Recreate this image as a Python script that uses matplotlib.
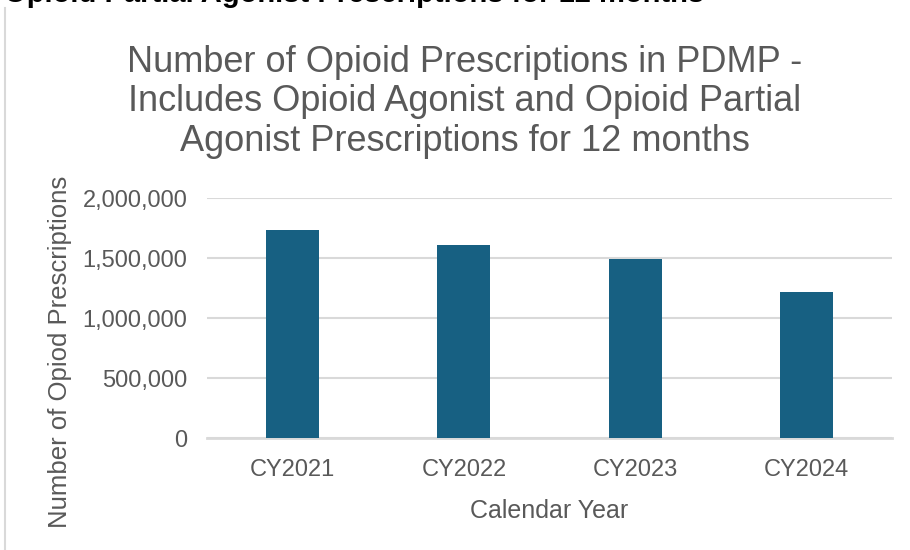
import matplotlib
matplotlib.use("Agg")
from matplotlib import pyplot as plt
from matplotlib.ticker import FuncFormatter
from matplotlib.lines import Line2D

plt.rcParams['font.family'] = ['Liberation Sans', 'DejaVu Sans']

# prescriptions per calendar year
years = ["CY2021", "CY2022", "CY2023", "CY2024"]
prescriptions = [1733000, 1608000, 1492000, 1217000]
yticks = [0, 500000, 1000000, 1500000, 2000000]

gris = "#595959"
barra = "#176082"

fig = plt.figure(figsize=[9.1, 5.5], dpi=100)
ax = fig.add_axes([0.2275, 0.2036, 0.9802 - 0.2275, 0.64 - 0.2036])

x = range(len(years))
ax.bar(x, prescriptions, width=0.31, color=barra, zorder=3)
ax.set_xlim(-0.5, len(years) - 0.5)
ax.set_ylim(0, 2000000)
ax.set_yticks(yticks)
ax.yaxis.set_major_formatter(FuncFormatter(lambda v, p: "{:,.0f}".format(v)))
ax.set_xticks(list(x))
ax.set_xticklabels(years)

ax.grid(axis="y", color="#d9d9d9", lw=1.5, zorder=0)
for s in ["top", "right", "left"]:
    ax.spines[s].set_visible(False)
ax.spines["bottom"].set_color("#d9d9d9")
ax.spines["bottom"].set_linewidth(2)
ax.tick_params(axis="both", length=0, labelsize=17, colors=gris)
ax.tick_params(axis="y", pad=14)
ax.tick_params(axis="x", pad=15)

ax.set_xlabel("Calendar Year", fontsize=18, color=gris, labelpad=13)
fig.text(0.066, 0.36, "Number of Opiod Prescriptions", rotation=90,
         fontsize=18.5, color=gris, ha="center", va="center")

fig.text(0.511, 0.815,
         "Number of Opioid Prescriptions in PDMP -\n"
         "Includes Opioid Agonist and Opioid Partial\n"
         "Agonist Prescriptions for 12 months",
         fontsize=26, color=gris, ha="center", va="center", linespacing=1.16)

# heading of the page, cut by the top edge
fig.text(0.004, 1 - 8 / 550, "Opioid Partial Agonist Prescriptions for 12 months",
         fontsize=21, fontweight="bold", color="black", ha="left", va="bottom")

fig.add_artist(Line2D([0.005, 0.005], [0, 0.985], color="#d9d9d9", lw=1.5,
                      transform=fig.transFigure))

fig.savefig("out.png", dpi=100)
